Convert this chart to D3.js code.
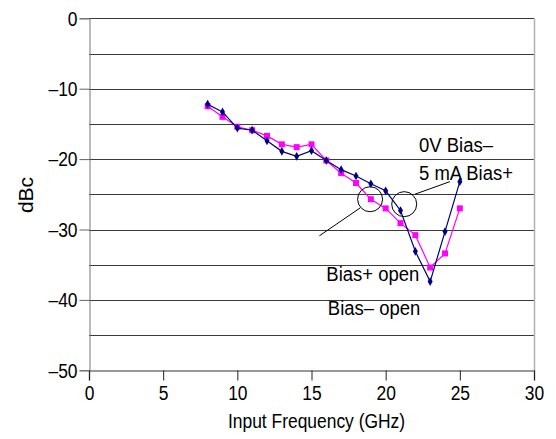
<!DOCTYPE html>
<html><head><meta charset="utf-8">
<script src="https://cdn.jsdelivr.net/npm/d3@7"></script>
<style>body{margin:0;background:#fff}svg{display:block}</style>
</head><body><svg id="c" width="556" height="439"></svg>
<script>
const freqs = [8,9,10,11,12,13,14,15,16,17,18,19,20,21,22,23,24,25];
const blueVals = [-12.2,-13.3,-15.6,-15.9,-17.4,-18.9,-19.6,-18.8,-20.2,-21.5,-22.4,-23.5,-24.5,-27.3,-33.1,-37.4,-30.3,-23.2];
const pinkVals = [-12.5,-14.0,-15.4,-15.9,-16.7,-17.9,-18.3,-17.9,-20.2,-22.0,-23.4,-25.7,-27.0,-29.1,-30.8,-35.4,-33.4,-27.0];
const xTicks = [0,5,10,15,20,25,30];
const yTicks = [0,-10,-20,-30,-40,-50];
const yGrid = [0,-5,-10,-15,-20,-25,-30,-35,-40,-45];
const labels = [
  {text:"0V Bias\u2013", f:22.25, v:-18.95},
  {text:"5 mA Bias+", f:22.25, v:-22.9},
  {text:"Bias+ open", f:16.0, v:-37.3},
  {text:"Bias\u2013 open", f:16.1, v:-42.2}
];
const circles = [{f:18.95, v:-25.7},{f:21.25, v:-26.4}];
const leaders = [[[15.53,-30.9],[18.27,-26.95]],[[21.97,-24.99],[24.33,-23.2]]];

const svg = d3.select("#c");
const m = {l:89, t:18.3, r:22, b:68.7};
const W = 556 - m.l - m.r, H = 439 - m.t - m.b;
const x = d3.scaleLinear().domain([0,30]).range([m.l, m.l+W]);
const y = d3.scaleLinear().domain([-50,0]).range([m.t+H, m.t]);
const font = "'Liberation Sans', Arial, sans-serif";
const SX = 0.83;

// grid
svg.append("g").selectAll("line").data(yGrid).join("line")
  .attr("x1", x(0)).attr("x2", x(30))
  .attr("y1", d=>Math.round(y(d))+0.5).attr("y2", d=>Math.round(y(d))+0.5)
  .attr("stroke", "#3a3a3a").attr("stroke-width", 1);
// right border
svg.append("line").attr("x1", Math.round(x(30))+0.5).attr("x2", Math.round(x(30))+0.5)
  .attr("y1", y(0)).attr("y2", y(-50)).attr("stroke", "#b0b0b0").attr("stroke-width", 1.5);

// y axis
const ya = svg.append("g").attr("transform", `translate(${Math.round(x(0))+0.5},0)`)
  .call(d3.axisLeft(y).tickValues(yTicks).tickSize(10).tickPadding(2)
    .tickFormat(d => d === 0 ? "0" : "\u2013" + Math.abs(d)));
ya.select(".domain").attr("stroke", "#777");
ya.selectAll(".tick line").attr("stroke", "#666");
ya.selectAll("text").attr("font-family", font).attr("font-size", 21).attr("fill", "#000")
  .attr("x", -12/SX).attr("transform", `scale(${SX},1)`);

// x axis
const xa = svg.append("g").attr("transform", `translate(0,${Math.round(y(-50))+0.5})`)
  .call(d3.axisBottom(x).tickValues(xTicks).tickSize(10).tickPadding(5));
xa.select(".domain").attr("stroke", "#777").attr("stroke-width", 1.5);
xa.selectAll(".tick line").attr("stroke", "#222");
xa.selectAll("text").attr("font-family", font).attr("font-size", 21).attr("fill", "#000")
  .attr("transform", `scale(${SX},1)`);

// axis titles
svg.append("text").attr("transform", "translate(33,195) rotate(-90)")
  .attr("text-anchor", "middle").attr("font-family", font)
  .attr("font-size", 21).text("dBc");
svg.append("text").attr("transform", `translate(${x(15)+5},428) scale(${SX},1)`).attr("text-anchor", "middle")
  .attr("font-family", font).attr("font-size", 21)
  .text("Input Frequency (GHz)");

// series
const line = d3.line().x(d=>x(d[0])).y(d=>y(d[1]));
const pinkData = freqs.map((f,i)=>[f,pinkVals[i]]);
const blueData = freqs.map((f,i)=>[f,blueVals[i]]);
svg.append("path").datum(pinkData).attr("d", line).attr("fill","none").attr("stroke","#ff00ff").attr("stroke-width",1.2);
svg.append("g").selectAll("rect").data(pinkData).join("rect")
  .attr("x", d=>x(d[0])-3).attr("y", d=>y(d[1])-3).attr("width",6).attr("height",6).attr("fill","#ff00ff");
svg.append("path").datum(blueData).attr("d", line).attr("fill","none").attr("stroke","#000080").attr("stroke-width",1.2);
svg.append("g").selectAll("path.d").data(blueData).join("path")
  .attr("d", d3.symbol(d3.symbolDiamond, 22)).attr("transform", d=>`translate(${x(d[0])},${y(d[1])})`).attr("fill","#000080");

// annotations
svg.append("g").selectAll("circle").data(circles).join("circle")
  .attr("cx", d=>x(d.f)).attr("cy", d=>y(d.v)).attr("r", 12.5)
  .attr("fill","none").attr("stroke","#000").attr("stroke-width",1);
svg.append("g").selectAll("line").data(leaders).join("line")
  .attr("x1", d=>x(d[0][0])).attr("y1", d=>y(d[0][1])).attr("x2", d=>x(d[1][0])).attr("y2", d=>y(d[1][1]))
  .attr("stroke","#000").attr("stroke-width",1);
svg.append("g").selectAll("text").data(labels).join("text")
  .attr("transform", d=>`translate(${x(d.f)},${y(d.v)}) scale(0.88,1)`)
  .attr("font-family", font).attr("font-size", 21)
  .text(d=>d.text);
</script></body></html>
